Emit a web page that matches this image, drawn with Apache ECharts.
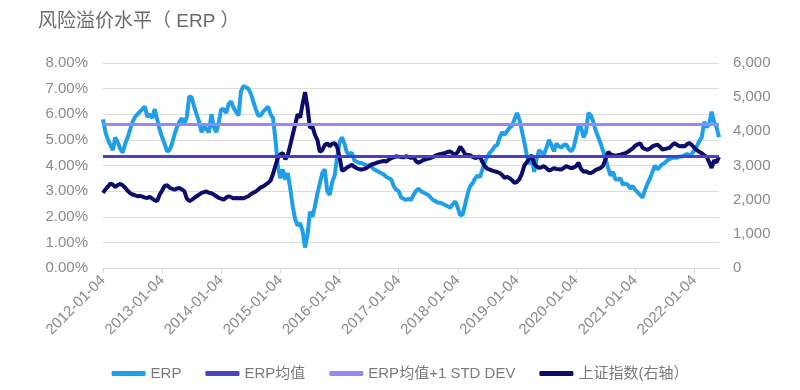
<!DOCTYPE html>
<html>
<head>
<meta charset="utf-8">
<script src="https://cdn.jsdelivr.net/npm/echarts@6/dist/echarts.min.js"></script>
<style>
html,body{margin:0;padding:0;background:#fff;}
#c{width:800px;height:390px;}
</style>
</head>
<body>
<div id="c"></div>
<script>
// Half-monthly observation dates (4th and 18th of each month), 2012-01-04 .. 2022-06-04
const START_YEAR = 2012, END_YEAR = 2022, END_MONTH = 6;
const categories = [];
for (let y = START_YEAR; y <= END_YEAR; y++) {
  for (let m = 1; m <= 12; m++) {
    const mm = (m < 10 ? '0' : '') + m;
    categories.push(y + '-' + mm + '-04');
    if (y === END_YEAR && m === END_MONTH) break;
    categories.push(y + '-' + mm + '-18');
  }
}
const tickLabels = ['2012-01-04','2013-01-04','2014-01-04','2015-01-04','2016-01-04','2017-01-04',
  '2018-01-04','2019-01-04','2020-01-04','2021-01-04','2022-01-04'];

// ERP (%)
const erp = [
  5.8,5.3,5.0,4.8,4.6,5.1,4.9,4.65,4.5,4.85,5.1,5.4,5.7,5.9,6.0,6.1,6.2,6.3,5.9,6.0,5.85,6.2,5.8,5.4,
  5.1,4.85,4.55,4.6,4.85,5.2,5.5,5.7,5.85,5.6,5.9,6.7,6.65,6.3,6.0,5.7,5.3,5.55,5.4,5.3,6.0,5.5,5.3,5.7,
  6.2,6.2,6.05,6.4,6.5,6.25,6.1,5.95,6.9,7.1,7.05,7.0,6.8,6.5,6.2,5.95,5.95,6.1,6.2,6.3,6.0,5.85,5.0,3.95,
  3.5,3.85,3.45,3.7,3.1,2.4,1.9,1.65,1.75,1.45,0.8,1.3,2.2,2.0,2.4,2.9,3.3,3.7,3.85,3.0,2.85,3.35,3.6,4.3,
  4.9,5.1,4.85,4.5,4.45,4.5,4.2,4.15,4.1,4.1,4.05,4.0,4.0,3.95,3.85,3.8,3.75,3.7,3.65,3.55,3.5,3.45,3.2,3.05,
  3.0,2.75,2.7,2.65,2.7,2.65,2.85,3.0,3.1,3.0,2.95,2.9,2.85,2.75,2.65,2.6,2.55,2.55,2.5,2.45,2.4,2.35,2.5,2.6,
  2.35,2.05,2.1,2.5,2.9,3.2,3.3,3.5,3.6,3.55,3.85,4.15,4.35,4.5,4.6,4.75,4.8,5.1,5.3,5.2,5.35,5.47,5.55,5.8,
  6.05,5.8,5.35,4.9,4.4,4.05,4.4,3.75,4.25,4.6,4.5,4.45,4.7,5.0,4.8,4.55,4.85,4.75,4.7,4.8,4.82,4.65,4.55,4.7,
  5.1,5.55,5.5,5.1,5.3,6.05,5.95,5.7,5.35,5.1,4.85,4.55,4.25,3.9,3.6,3.75,3.45,3.45,3.5,3.25,3.3,3.25,3.1,3.2,
  3.05,2.95,2.85,2.75,3.05,3.3,3.5,3.75,4.0,3.85,3.95,4.05,4.1,4.2,4.25,4.3,4.3,4.3,4.35,4.35,4.4,4.45,4.4,4.45,
  4.6,4.75,4.95,5.1,5.7,5.5,5.6,6.1,5.7,5.5,5.1
];
// 上证指数 (right axis)
const sse = [
  2200,2300,2380,2470,2440,2370,2430,2460,2420,2350,2260,2190,2150,2130,2100,2110,2090,2060,2050,2080,2030,1980,1960,2150,
  2270,2400,2430,2350,2320,2290,2330,2340,2300,2250,2040,1960,1990,2050,2100,2150,2200,2220,2240,2200,2190,2150,2100,2050,
  2030,2000,2060,2100,2070,2040,2050,2040,2050,2040,2070,2100,2160,2200,2240,2300,2360,2390,2440,2490,2560,2750,3000,3230,
  3330,3360,3180,3310,3600,3900,4200,4500,4400,4800,5150,4700,4100,4150,3900,3750,3400,3450,3600,3650,3560,3640,3650,3550,
  3250,2850,2880,2940,2980,3020,2960,2920,2890,2880,2900,2930,2980,3030,3050,3080,3100,3120,3130,3120,3170,3220,3240,3270,
  3260,3250,3240,3270,3250,3220,3250,3130,3080,3120,3160,3180,3200,3220,3250,3290,3320,3340,3350,3370,3400,3410,3350,3320,
  3400,3550,3450,3320,3310,3300,3250,3220,3240,3260,3100,2980,2900,2880,2850,2830,2810,2780,2720,2640,2670,2630,2570,2490,
  2520,2600,2760,3000,3100,3200,3300,3050,2970,2930,2950,2980,2920,2850,2880,2920,2900,2890,2880,2930,2980,2950,2920,2940,
  2980,3080,2900,2820,2830,2790,2780,2820,2870,2900,2930,3000,3200,3400,3330,3300,3280,3300,3320,3340,3360,3400,3450,3500,
  3580,3620,3650,3520,3480,3460,3500,3560,3590,3610,3550,3470,3480,3500,3520,3600,3660,3600,3560,3570,3560,3620,3660,3600,
  3520,3450,3400,3360,3300,3250,3100,2930,3150,3090,3250
];
const ERP_MEAN = 4.35;      // ERP均值 (%)
const ERP_MEAN_1SD = 5.61;  // ERP均值+1 STD DEV (%)

const FONT = "'Liberation Sans','Noto Sans CJK SC',sans-serif";
const C_ERP = '#1f9fe9', C_MEAN = '#4a3fc6', C_SD = '#9b87f3', C_SSE = '#0c0c6b';

const chart = echarts.init(document.getElementById('c'), null, {renderer: 'canvas'});
chart.setOption({
  animation: false,
  backgroundColor: '#fff',
  textStyle: {fontFamily: FONT},
  title: {
    text: '风险溢价水平（ ERP ）',
    left: 33, top: 7,
    textStyle: {fontSize: 19, fontWeight: 'normal', color: '#6a6a6a', fontFamily: FONT}
  },
  legend: {
    top: 361, left: 'center',
    itemWidth: 34, itemHeight: 5, itemGap: 24,
    icon: 'roundRect',
    textStyle: {fontSize: 15, color: '#7a7a7a', fontFamily: FONT},
    data: ['ERP', 'ERP均值', 'ERP均值+1 STD DEV', '上证指数(右轴）']
  },
  grid: {left: 103, right: 81, top: 63, bottom: 122, containLabel: false},
  xAxis: {
    type: 'category',
    data: categories,
    boundaryGap: false,
    axisLine: {lineStyle: {color: '#d9d9d9', width: 1}},
    axisTick: {show: true, length: 5, lineStyle: {color: '#d9d9d9'},
      interval: (i, v) => tickLabels.indexOf(v) >= 0},
    axisLabel: {
      interval: (i, v) => tickLabels.indexOf(v) >= 0,
      rotate: 45, margin: 10,
      fontSize: 15, color: '#8a8a8a', fontFamily: FONT
    },
    splitLine: {show: false}
  },
  yAxis: [
    {
      type: 'value', min: 0, max: 8, interval: 1, position: 'left',
      axisLine: {show: false}, axisTick: {show: false},
      axisLabel: {formatter: v => v.toFixed(2) + '%', fontSize: 15, color: '#8a8a8a', margin: 15, fontFamily: FONT},
      splitLine: {lineStyle: {color: '#dcdcdc', width: 1}}
    },
    {
      type: 'value', min: 0, max: 6000, interval: 1000, position: 'right',
      axisLine: {show: false}, axisTick: {show: false},
      axisLabel: {formatter: v => v.toLocaleString('en-US'), fontSize: 15, color: '#8a8a8a', margin: 14, fontFamily: FONT},
      splitLine: {show: false}
    }
  ],
  series: [
    {
      name: 'ERP', type: 'line', data: erp, yAxisIndex: 0,
      symbol: 'none', color: C_ERP,
      lineStyle: {color: C_ERP, width: 4}
    },
    {
      name: 'ERP均值', type: 'line', data: [], yAxisIndex: 0,
      symbol: 'none', color: C_MEAN,
      markLine: {silent: true, symbol: 'none', label: {show: false},
        lineStyle: {color: C_MEAN, width: 3, type: 'solid'},
        data: [{yAxis: ERP_MEAN}]}
    },
    {
      name: 'ERP均值+1 STD DEV', type: 'line', data: [], yAxisIndex: 0,
      symbol: 'none', color: C_SD,
      markLine: {silent: true, symbol: 'none', label: {show: false},
        lineStyle: {color: C_SD, width: 3, type: 'solid'},
        data: [{yAxis: ERP_MEAN_1SD}]}
    },
    {
      name: '上证指数(右轴）', type: 'line', data: sse, yAxisIndex: 1,
      symbol: 'none', color: C_SSE,
      lineStyle: {color: C_SSE, width: 4}
    }
  ]
});
</script>
</body>
</html>
